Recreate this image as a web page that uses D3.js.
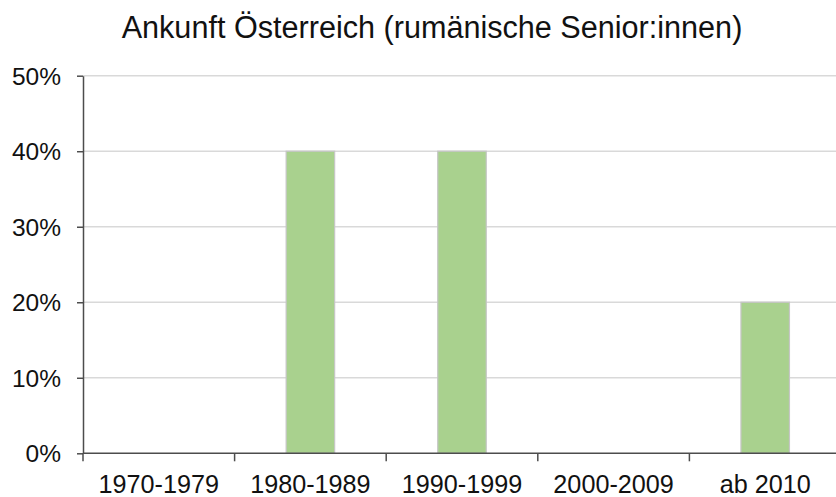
<!DOCTYPE html>
<html>
<head>
<meta charset="utf-8">
<script src="https://cdn.jsdelivr.net/npm/d3@7"></script>
<style>
  body { margin: 0; background: #fff; }
  svg { display: block; }
  text { font-family: "Liberation Sans", Arial, sans-serif; fill: #111; }
</style>
</head>
<body>
<svg width="836" height="497"></svg>
<script>
// data
const categories = ["1970-1979", "1980-1989", "1990-1999", "2000-2009", "ab 2010"];
const shares = [0, 0.4, 0.4, 0, 0.2];
const yTicks = [0, 0.1, 0.2, 0.3, 0.4, 0.5];
const title = "Ankunft Österreich (rumänische Senior:innen)";

const svg = d3.select("svg");
const plotLeft = 83, plotRight = 841, plotTop = 75.7, plotBottom = 453.3;

const x = d3.scaleBand()
  .domain(categories)
  .range([plotLeft, plotRight])
  .paddingInner(0.68)
  .paddingOuter(0.34);

const y = d3.scaleLinear()
  .domain([0, 0.5])
  .range([plotBottom, plotTop]);

// gridlines
svg.append("g")
  .selectAll("line")
  .data(yTicks.filter(d => d > 0))
  .enter().append("line")
  .attr("x1", plotLeft).attr("x2", 836)
  .attr("y1", d => y(d)).attr("y2", d => y(d))
  .attr("stroke", "#d9d9d9")
  .attr("stroke-width", 1.5);

// bars
svg.append("g")
  .selectAll("rect")
  .data(shares)
  .enter().append("rect")
  .attr("x", (d, i) => x(categories[i]))
  .attr("width", x.bandwidth())
  .attr("y", d => y(d))
  .attr("height", d => plotBottom - y(d))
  .attr("fill", "#a9d18e")
  .attr("stroke", "#c6c6c6")
  .attr("stroke-width", 1.2);

// y axis
const yAxis = svg.append("g")
  .attr("transform", `translate(${plotLeft},0)`)
  .call(d3.axisLeft(y).tickValues(yTicks).tickFormat(d3.format(".0%")).tickSize(6).tickSizeOuter(0));
yAxis.select(".domain").attr("stroke", "#4d4d4d").attr("stroke-width", 1.5);
yAxis.selectAll(".tick line").attr("stroke", "#4d4d4d").attr("stroke-width", 1.5);
yAxis.selectAll(".tick text")
  .attr("x", -22)
  .attr("dy", "0.35em")
  .style("font-size", "24.5px")
  .style("font-family", "'Liberation Sans', Arial, sans-serif")
  .attr("fill", "#111");

// x axis: ticks at band boundaries
const step = x.step();
const bounds = d3.range(categories.length + 1).map(i => plotLeft + i * step);
const xg = svg.append("g");
xg.append("line")
  .attr("x1", plotLeft).attr("x2", 836)
  .attr("y1", plotBottom).attr("y2", plotBottom)
  .attr("stroke", "#4d4d4d").attr("stroke-width", 1.5);
xg.selectAll(".xt")
  .data(bounds)
  .enter().append("line")
  .attr("class", "xt")
  .attr("x1", d => d).attr("x2", d => d)
  .attr("y1", plotBottom).attr("y2", plotBottom + 8)
  .attr("stroke", "#4d4d4d").attr("stroke-width", 1.5);
xg.selectAll(".xl")
  .data(categories)
  .enter().append("text")
  .attr("class", "xl")
  .attr("x", d => x(d) + x.bandwidth() / 2)
  .attr("y", 492.5)
  .attr("text-anchor", "middle")
  .style("font-size", "25.2px")
  .text(d => d);

// title
svg.append("text")
  .attr("x", 432)
  .attr("y", 38.3)
  .attr("text-anchor", "middle")
  .style("font-size", "30.6px")
  .text(title);
</script>
</body>
</html>
